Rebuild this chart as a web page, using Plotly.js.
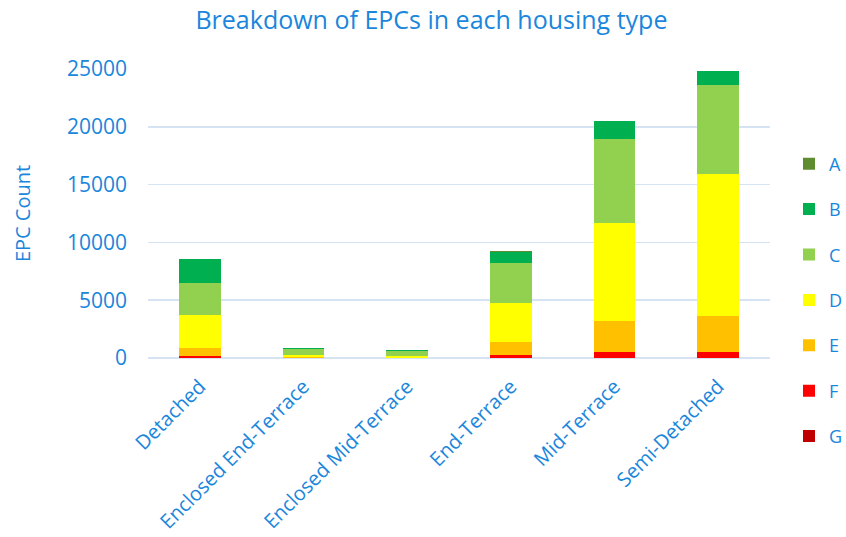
<!DOCTYPE html>
<html>
<head>
<meta charset="utf-8">
<script src="https://cdn.plot.ly/plotly-3.0.1.min.js"></script>
<style>html,body{margin:0;padding:0;background:#fff;}#chart{width:846px;height:537px;}</style>
</head>
<body>
<div id="chart"></div>
<script>
const categories = ['Detached','Enclosed End-Terrace','Enclosed Mid-Terrace','End-Terrace','Mid-Terrace','Semi-Detached'];
const ratingNames = ['G','F','E','D','C','B','A'];
const G = [40, 5, 3, 30, 40, 40];
const F = [130, 15, 10, 250, 500, 500];
const E = [720, 50, 30, 1120, 2650, 3110];
const D = [2850, 210, 130, 3370, 8450, 12250];
const C = [2740, 460, 460, 3430, 7270, 7750];
const B = [2080, 110, 60, 1010, 1560, 1150];
const A = [15, 5, 3, 10, 15, 20];
const seriesValues = [G, F, E, D, C, B, A];
const colors = ['#c00000','#ff0000','#ffc000','#ffff00','#92d050','#00b050','#5e8c31'];
const textColor = '#1a86dc';
const font = '"Open Sans", "Liberation Sans", sans-serif';

const traces = ratingNames.map((n, i) => ({
  type: 'bar',
  name: n,
  x: categories,
  y: seriesValues[i],
  legendgroup: n,
  legendrank: ratingNames.length - i,
  marker: {color: colors[i], line: {width: 0}},
  hoverinfo: 'x+y+name'
}));

const layout = {
  width: 846, height: 537,
  margin: {l: 148, r: 76, t: 69, b: 179},
  barmode: 'stack',
  bargap: 0.6,
  paper_bgcolor: '#fff',
  plot_bgcolor: '#fff',
  font: {family: font, color: textColor, size: 20},
  title: {text: 'Breakdown of EPCs in each housing type', x: 0.51, xanchor: 'center', y: 0.962, yanchor: 'middle', font: {size: 25, color: textColor, family: font}},
  xaxis: {
    tickangle: -45,
    tickfont: {size: 20, color: textColor},
    showgrid: false,
    showline: false,
    ticks: '',
    ticklabelstandoff: 12,
    automargin: false
  },
  yaxis: {
    range: [0, 25000],
    dtick: 5000,
    tickformat: 'd',
    tickfont: {size: 21, color: textColor},
    gridcolor: '#d5e3f2',
    gridwidth: 1.5,
    zeroline: true,
    zerolinecolor: '#d5e3f2',
    zerolinewidth: 1.5,
    showline: false,
    ticks: '',
    ticklabelstandoff: 20,
    automargin: false,
    title: {text: 'EPC Count', font: {size: 20, color: textColor}, standoff: 30}
  },
  legend: {
    xref: 'container', yref: 'container',
    x: 789 / 846, xanchor: 'left', y: 1 - 300 / 537, yanchor: 'middle',
    traceorder: 'grouped',
    tracegroupgap: 19,
    maxheight: 520,
    font: {size: 18, color: textColor},
    itemwidth: 30
  },
  showlegend: true
};

Plotly.newPlot('chart', traces, layout, {displayModeBar: false, staticPlot: true});
</script>
</body>
</html>
